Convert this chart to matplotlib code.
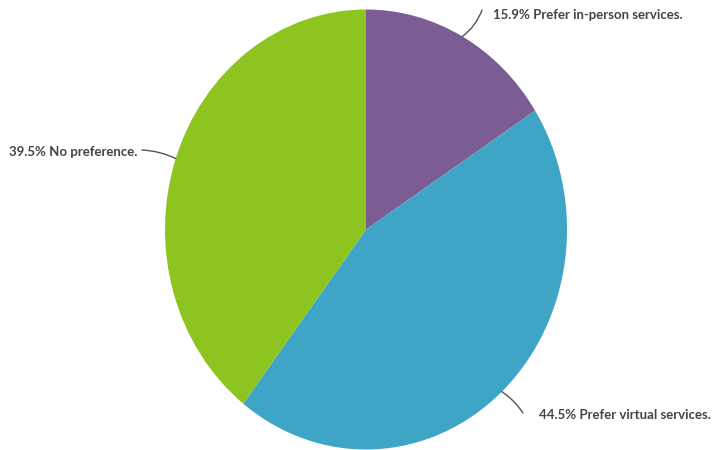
import numpy as np
import matplotlib
matplotlib.use("Agg")
import matplotlib.pyplot as plt

labels = ["Prefer in-person services.", "Prefer virtual services.", "No preference."]
values = [15.9, 44.5, 39.5]
colors = ["#7B5C93", "#3FA5C7", "#8EC41F"]

W, H = 712, 450
cx, cy = 366, 229.5
rx, ry = 201, 220

fig = plt.figure(figsize=(W / 100, H / 100), dpi=100)
ax = fig.add_axes([0, 0, 1, 1])
ax.set_xlim(-cx / rx, (W - cx) / rx)
ax.set_ylim(-(H - cy) / ry, cy / ry)
ax.set_aspect("auto")
ax.axis("off")

wedges, _ = ax.pie(values, colors=colors, startangle=90, counterclock=False,
                   radius=1.0, center=(0, 0), wedgeprops=dict(linewidth=0))
ax.set_xlim(-cx / rx, (W - cx) / rx)
ax.set_ylim(-(H - cy) / ry, cy / ry)
ax.set_aspect("auto")


def px(x, y):
    return ((x - cx) / rx, (cy - y) / ry)


# label layout (pixel coords): line end, text anchor, ha, curvature
layout = [
    ((482, 10), (493, 15), "left", -0.15),
    ((523, 413), (539, 415), "left", 0.1),
    ((142, 150), (137, 152), "right", -0.1),
]

txt_color = "#444444"
for w, lab, v, (lend, tpos, ha, rad) in zip(wedges, labels, values, layout):
    ang = np.deg2rad((w.theta1 + w.theta2) / 2)
    edge = (np.cos(ang), np.sin(ang))
    ax.annotate("", xy=edge, xytext=px(*lend),
                arrowprops=dict(arrowstyle="-", color="#555555", lw=1.0,
                                shrinkA=0, shrinkB=0,
                                connectionstyle=f"arc3,rad={rad}"))
    ax.text(*px(*tpos), f"{v}% {lab}", ha=ha, va="center", fontsize=9.5,
            fontfamily="Lato", fontweight="bold", color=txt_color)

fig.savefig("out.png", dpi=100, facecolor="white")
